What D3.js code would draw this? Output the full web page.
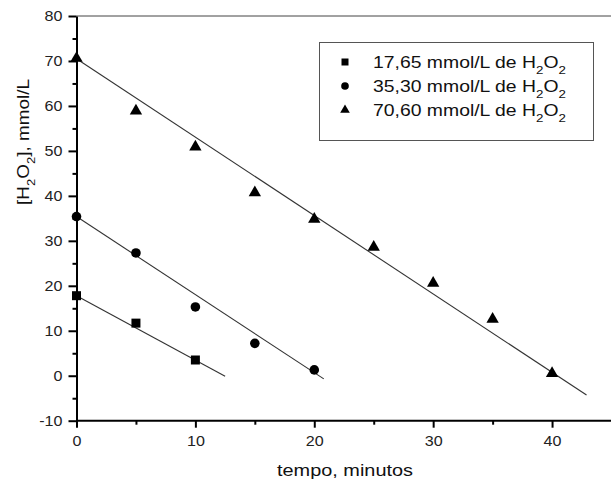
<!DOCTYPE html>
<html>
<head>
<meta charset="utf-8">
<script src="https://cdn.jsdelivr.net/npm/d3@7"></script>
<style>
  body { margin: 0; background: #fff; }
  text { font-family: "Liberation Sans", Arial, sans-serif; fill: #111; }
</style>
</head>
<body>
<svg class="chart"></svg>
<script>
// [H2O2] decay over time, three starting concentrations

let width = 611, height = 479;

// time in minutes
let times = [0, 5, 10, 15, 20, 25, 30, 35, 40];
// measured concentrations (mmol/L)
let conc1765 = [17.8, 11.7, 3.5];
let conc3530 = [35.4, 27.3, 15.3, 7.2, 1.3];
let conc7060 = [70.6, 58.9, 50.9, 40.7, 34.8, 28.6, 20.6, 12.6, 0.5];
// linear fit end points [time, conc]
let fit1765 = [[0, 17.8], [12.5, -0.1]];
let fit3530 = [[0, 35.4], [20.8, -0.7]];
let fit7060 = [[0, 70.5], [42.9, -4.3]];

let legendLabels = ["17,65", "35,30", "70,60"];
let yTicks = [-10, 0, 10, 20, 30, 40, 50, 60, 70, 80];
let yMinor = [-5, 5, 15, 25, 35, 45, 55, 65, 75];
let xTicks = [0, 10, 20, 30, 40];
let xMinor = [5, 15, 25, 35];

let x = d3.scaleLinear().domain([0, 45]).range([76.5, 611.5]);
let y = d3.scaleLinear().domain([-10, 80]).range([420.7, 16]);

let svg = d3.select(".chart")
  .attr("width", width)
  .attr("height", height);

let series = [
  { t: times.slice(0, 3), c: conc1765, fit: fit1765, sym: d3.symbolSquare, size: 81, lsize: 49 },
  { t: times.slice(0, 5), c: conc3530, fit: fit3530, sym: d3.symbolCircle, size: 72, lsize: 46 },
  { t: times, c: conc7060, fit: fit7060, sym: d3.symbolTriangle, size: 66, lsize: 40 }
];

// stretch text horizontally (the original labels are wide)
function stretch(sel, k) {
  sel.each(function () {
    let t = d3.select(this);
    let x0 = +t.attr("x") || 0;
    t.attr("x", x0 / k).attr("transform", "scale(" + k + ",1)");
  });
}

// top frame line
svg.append("line")
  .attr("x1", x(0)).attr("x2", width)
  .attr("y1", y(80)).attr("y2", y(80))
  .style("stroke", "#444").style("stroke-width", 1);

// minor ticks
svg.append("g")
  .attr("transform", "translate(" + x(0) + ",0)")
  .call(d3.axisLeft(y).tickValues(yMinor).tickSize(4).tickFormat(""))
  .call(g => g.select(".domain").remove())
  .selectAll("line").style("stroke", "#000").style("stroke-width", 2);

svg.append("g")
  .attr("transform", "translate(0," + y(-10) + ")")
  .call(d3.axisBottom(x).tickValues(xMinor).tickSize(4).tickFormat(""))
  .call(g => g.select(".domain").remove())
  .selectAll("line").style("stroke", "#000").style("stroke-width", 2);

// y axis
let yAxis = svg.append("g")
  .attr("transform", "translate(" + x(0) + ",0)")
  .call(d3.axisLeft(y).tickValues(yTicks).tickFormat(d => String(d))
    .tickSize(8).tickSizeOuter(0).tickPadding(6));
yAxis.select(".domain").style("stroke", "#000").style("stroke-width", 2);
yAxis.selectAll("line").style("stroke", "#000").style("stroke-width", 2);
yAxis.selectAll("text").style("font-size", "14px").style("font-family", "Liberation Sans, Arial").style("fill", "#222");
stretch(yAxis.selectAll("text"), 1.15);

// x axis
let xAxis = svg.append("g")
  .attr("transform", "translate(0," + y(-10) + ")")
  .call(d3.axisBottom(x).tickValues(xTicks).tickSize(7).tickSizeOuter(0).tickPadding(8));
xAxis.select(".domain").attr("d", "M" + x(0) + ",0H" + width).style("stroke", "#000").style("stroke-width", 2);
xAxis.selectAll("line").style("stroke", "#000").style("stroke-width", 2);
xAxis.selectAll("text").style("font-size", "14px").style("font-family", "Liberation Sans, Arial").style("fill", "#222");
stretch(xAxis.selectAll("text"), 1.15);

// axis titles
let xt = svg.append("text")
  .attr("transform", "translate(345,476)")
  .style("font-size", "17px")
  .style("text-anchor", "middle")
  .text("tempo, minutos");
xt.attr("transform", "translate(345,476) scale(" + (136 / xt.node().getComputedTextLength()) + ",1)");

let yt = svg.append("text")
  .style("font-size", "16px")
  .style("text-anchor", "middle");
yt.append("tspan").text("[H");
yt.append("tspan").text("2").attr("baseline-shift", "sub").style("font-size", "11px");
yt.append("tspan").text("O");
yt.append("tspan").text("2").attr("baseline-shift", "sub").style("font-size", "11px");
yt.append("tspan").text("], mmol/L");
let ytw = yt.node().getComputedTextLength();
yt.attr("transform", "translate(29,142) rotate(-90) scale(" + (126 / ytw) + ",1)");

// fit lines
let line = d3.line().x(d => x(d[0])).y(d => y(d[1]));
series.forEach(s => {
  svg.append("path")
    .attr("d", line(s.fit))
    .style("fill", "none")
    .style("stroke", "#333")
    .style("stroke-width", 1.1);
});

// points
series.forEach(s => {
  svg.append("g").selectAll("path")
    .data(s.c)
    .join("path")
    .attr("transform", (d, i) => "translate(" + x(s.t[i]) + "," + y(d) + ")")
    .attr("d", d3.symbol().type(s.sym).size(s.size))
    .style("fill", "#000");
});

// legend
let legend = svg.append("g");
legend.append("rect")
  .attr("x", 319.5).attr("y", 42.5)
  .attr("width", 274).attr("height", 98)
  .style("fill", "#fff")
  .style("stroke", "#555")
  .style("stroke-width", 1);

let rowY = [62, 86, 110];
series.forEach((s, i) => {
  legend.append("path")
    .attr("transform", "translate(345," + rowY[i] + ")")
    .attr("d", d3.symbol().type(s.sym).size(s.lsize))
    .style("fill", "#000");
  let lt = legend.append("text")
    .style("font-size", "16px");
  lt.append("tspan").text(legendLabels[i] + " mmol/L de H");
  lt.append("tspan").text("2").attr("baseline-shift", "sub").style("font-size", "11px");
  lt.append("tspan").text("O");
  lt.append("tspan").text("2").attr("baseline-shift", "sub").style("font-size", "11px");
  let w = lt.node().getComputedTextLength();
  lt.attr("transform", "translate(373," + (rowY[i] + 6) + ") scale(" + (193 / w) + ",1)");
});
</script>
</body>
</html>
